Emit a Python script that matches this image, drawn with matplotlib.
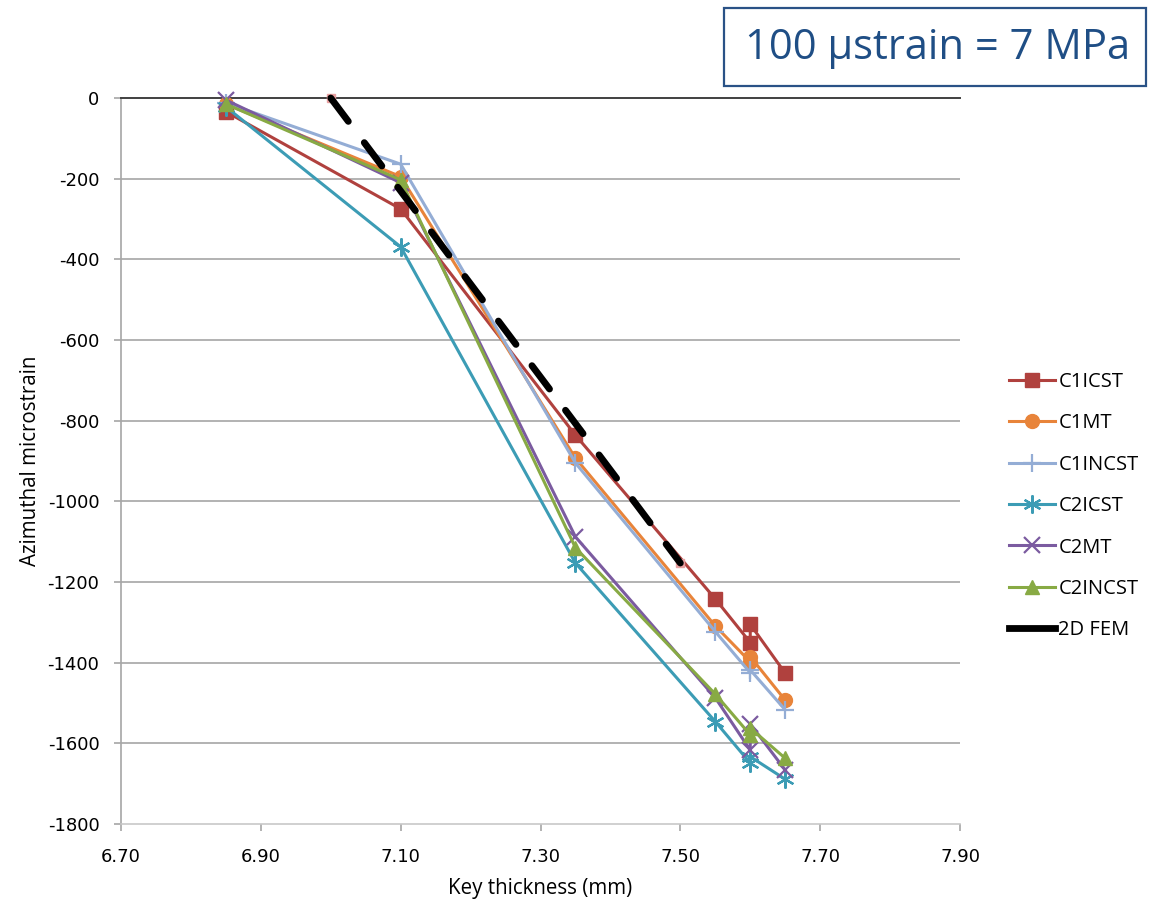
import matplotlib
matplotlib.use("Agg")
import matplotlib.pyplot as plt
from matplotlib.lines import Line2D
from matplotlib.patches import Rectangle

# Key thickness (mm) at each gauge reading
thickness = [6.85, 7.10, 7.35, 7.55, 7.60, 7.60, 7.65]

# Azimuthal microstrain per configuration
c1icst = [-34, -275, -836, -1242, -1350, -1305, -1426]
c1mt = [-15, -195, -893, -1309, -1398, -1385, -1493]
c1incst = [-12, -164, -905, -1323, -1425, -1418, -1517]
c2icst = [-22, -369, -1153, -1546, -1649, -1633, -1689]
c2mt = [-5, -210, -1088, -1487, -1617, -1552, -1666]
c2incst = [-15, -203, -1115, -1478, -1579, -1562, -1637]

# 2D finite element prediction
fem_thickness = [7.00, 7.50]
fem_strain = [0, -1153]

series_names = ["C1ICST", "C1MT", "C1INCST", "C2ICST", "C2MT", "C2INCST"]
series_values = [c1icst, c1mt, c1incst, c2icst, c2mt, c2incst]
colors = ["#B0413E", "#E8843A", "#94ADD5", "#3C9CB5", "#7B5BA0", "#88AA44"]
markers = ["s", "o", "+", (6, 2, 0), "x", "^"]
msizes = [10, 10, 13, 13, 11, 10]

xticks = [6.70, 6.90, 7.10, 7.30, 7.50, 7.70, 7.90]
yticks = list(range(-1800, 1, 200))

label_font = ["Open Sans", "DejaVu Sans"]

fig = plt.figure(figsize=(11.57, 9.01), dpi=100)
ax = fig.add_axes([121 / 1157, 1 - 824 / 901, (960 - 121) / 1157, (824 - 98) / 901])

for y in yticks[1:-1]:
    ax.axhline(y, color="#A6A6A6", lw=1.2, zorder=0)

handles = []
for name, vals, c, m, ms in zip(series_names, series_values, colors, markers, msizes):
    filled = m in ("s", "o", "^")
    style = dict(color=c, lw=2.2, marker=m, markersize=ms,
                 markerfacecolor=c, markeredgecolor=c,
                 markeredgewidth=1.0 if filled else 1.6)
    ax.plot(thickness, vals, zorder=3, clip_on=False, **style)
    handles.append(Line2D([], [], label=name, **style))

ax.plot(fem_thickness, fem_strain, ls="none", marker="s", markersize=6,
        color="#E8A0A0", zorder=3, clip_on=False)
ax.plot(fem_thickness, fem_strain, color="black", lw=4.9,
        dashes=(4.3, 3.9), dash_capstyle="round", zorder=4, clip_on=False)
handles.append(Line2D([], [], color="black", lw=4.9, label="2D FEM"))

ax.set_xlim(6.70, 7.90)
ax.set_ylim(-1800, 0)
ax.set_xticks(xticks)
ax.set_xticklabels([f"{v:.2f}" for v in xticks])
ax.set_yticks(yticks)
ax.set_yticklabels([f"{v}" for v in yticks])
ax.tick_params(axis="both", labelsize=13, colors="#A6A6A6", labelcolor="black",
               length=5, width=1.2, direction="out")
ax.tick_params(axis="y", pad=10.5)
ax.tick_params(axis="x", pad=12)

ax.spines["right"].set_visible(False)
ax.spines["left"].set_color("#A6A6A6")
ax.spines["left"].set_linewidth(1.2)
ax.spines["bottom"].set_color("#C8C8C8")
ax.spines["bottom"].set_linewidth(1.2)
ax.spines["top"].set_color("#404040")
ax.spines["top"].set_linewidth(1.4)

ax.set_xlabel("Key thickness (mm)", family=label_font, fontsize=14.8, labelpad=9)
ax.set_ylabel("Azimuthal microstrain", family=label_font, fontsize=14.8, labelpad=5)

fig.legend(handles=handles, loc="upper left",
           bbox_to_anchor=(991 / 1157, 1 - 354 / 901),
           frameon=False, prop={"family": label_font, "size": 14.5},
           handlelength=2.3, handletextpad=0.15, labelspacing=1.06)

# Conversion note box
fig.patches.append(Rectangle((724 / 1157, 1 - 86 / 901), (1146 - 724) / 1157, 78 / 901,
                             transform=fig.transFigure, fill=False,
                             edgecolor="#2A5286", lw=1.6))
fig.text(938 / 1157, 1 - 48 / 901, "100 \u00b5strain = 7 MPa", ha="center", va="center",
         family=label_font, fontsize=30, color="#1F4E85")

fig.savefig("out.png", dpi=100)
